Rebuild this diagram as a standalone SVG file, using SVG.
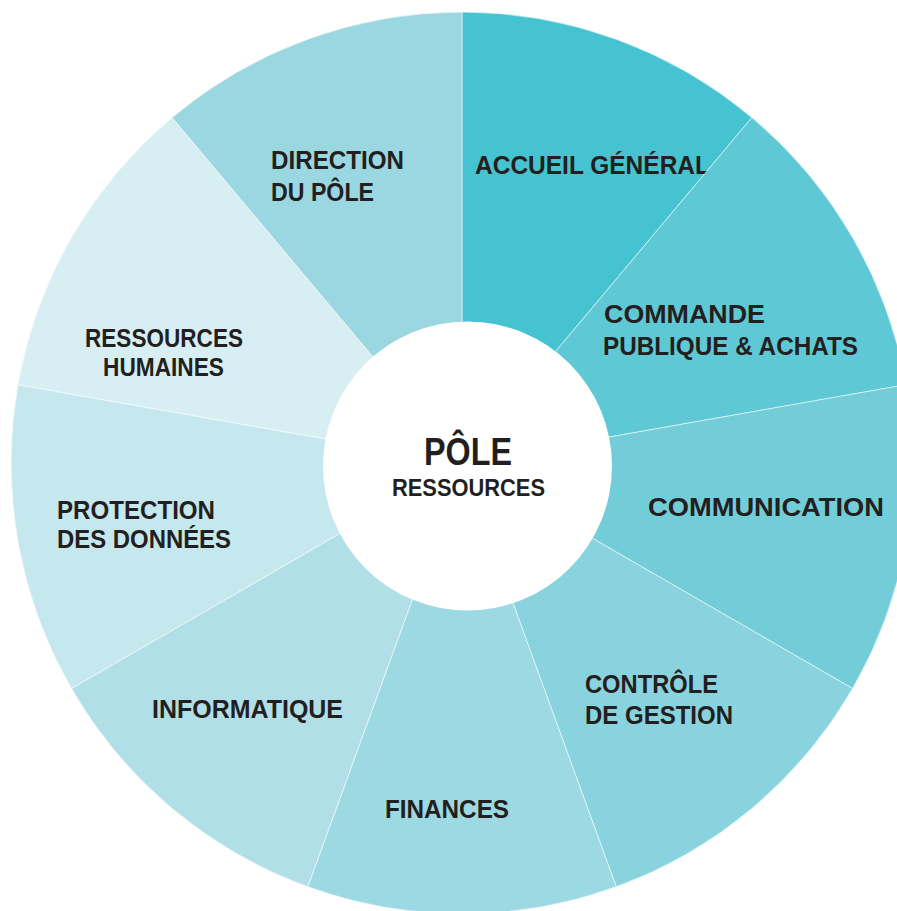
<svg xmlns="http://www.w3.org/2000/svg" width="897" height="911" viewBox="0 0 897 911">
<style>
.sec{stroke:#ffffff;stroke-opacity:0.55;stroke-width:1}
.lbl{font-family:"Liberation Sans",Arial,sans-serif;font-weight:bold;font-size:25px;fill:#231f20}
.big{font-size:38px}
.mid{font-size:23px}
</style>
<rect width="897" height="911" fill="#ffffff"/>
<g id="accueil-general">
<path class="sec" fill="#46c3d0" d="M462,463 L462,12 A451,451 0 0 1 751.90,117.51 Z"/>
<text class="lbl" x="475" y="174" textLength="235" lengthAdjust="spacingAndGlyphs">ACCUEIL GÉNÉRAL</text>
</g>
<g id="commande-publique">
<path class="sec" fill="#5fc8d5" d="M462,463 L751.90,117.51 A451,451 0 0 1 906.15,384.68 Z"/>
<text class="lbl" x="604" y="323" textLength="161" lengthAdjust="spacingAndGlyphs">COMMANDE</text>
<text class="lbl" x="603" y="355" textLength="255" lengthAdjust="spacingAndGlyphs">PUBLIQUE &amp; ACHATS</text>
</g>
<g id="communication">
<path class="sec" fill="#73cdd8" d="M462,463 L906.15,384.68 A451,451 0 0 1 852.58,688.5 Z"/>
<text class="lbl" x="648" y="516" textLength="236" lengthAdjust="spacingAndGlyphs">COMMUNICATION</text>
</g>
<g id="controle-gestion">
<path class="sec" fill="#88d3dd" d="M462,463 L852.58,688.5 A451,451 0 0 1 616.25,886.80 Z"/>
<text class="lbl" x="585" y="693" textLength="133" lengthAdjust="spacingAndGlyphs">CONTRÔLE</text>
<text class="lbl" x="585" y="724" textLength="148" lengthAdjust="spacingAndGlyphs">DE GESTION</text>
</g>
<g id="finances">
<path class="sec" fill="#9dd9e2" d="M462,463 L616.25,886.80 A451,451 0 0 1 307.75,886.80 Z"/>
<text class="lbl" x="385" y="818" textLength="124" lengthAdjust="spacingAndGlyphs">FINANCES</text>
</g>
<g id="informatique">
<path class="sec" fill="#b1dfe7" d="M462,463 L307.75,886.80 A451,451 0 0 1 71.42,688.5 Z"/>
<text class="lbl" x="152" y="718" textLength="191" lengthAdjust="spacingAndGlyphs">INFORMATIQUE</text>
</g>
<g id="protection-donnees">
<path class="sec" fill="#c5e7ee" d="M462,463 L71.42,688.5 A451,451 0 0 1 17.85,384.68 Z"/>
<text class="lbl" x="57" y="519" textLength="158" lengthAdjust="spacingAndGlyphs">PROTECTION</text>
<text class="lbl" x="57" y="548" textLength="174" lengthAdjust="spacingAndGlyphs">DES DONNÉES</text>
</g>
<g id="ressources-humaines">
<path class="sec" fill="#d7eff3" d="M462,463 L17.85,384.68 A451,451 0 0 1 172.10,117.51 Z"/>
<text class="lbl" x="85" y="347" textLength="158" lengthAdjust="spacingAndGlyphs">RESSOURCES</text>
<text class="lbl" x="103" y="376" textLength="121" lengthAdjust="spacingAndGlyphs">HUMAINES</text>
</g>
<g id="direction-pole">
<path class="sec" fill="#9ad7e0" d="M462,463 L172.10,117.51 A451,451 0 0 1 462,12 Z"/>
<text class="lbl" x="271" y="169" textLength="133" lengthAdjust="spacingAndGlyphs">DIRECTION</text>
<text class="lbl" x="271" y="201" textLength="103" lengthAdjust="spacingAndGlyphs">DU PÔLE</text>
</g>
<g id="pole-ressources">
<circle cx="467.5" cy="466" r="144.5" fill="#ffffff"/>
<text class="lbl big" x="424" y="465" textLength="88" lengthAdjust="spacingAndGlyphs">PÔLE</text>
<text class="lbl mid" x="392" y="496" textLength="153" lengthAdjust="spacingAndGlyphs">RESSOURCES</text>
</g>
</svg>
